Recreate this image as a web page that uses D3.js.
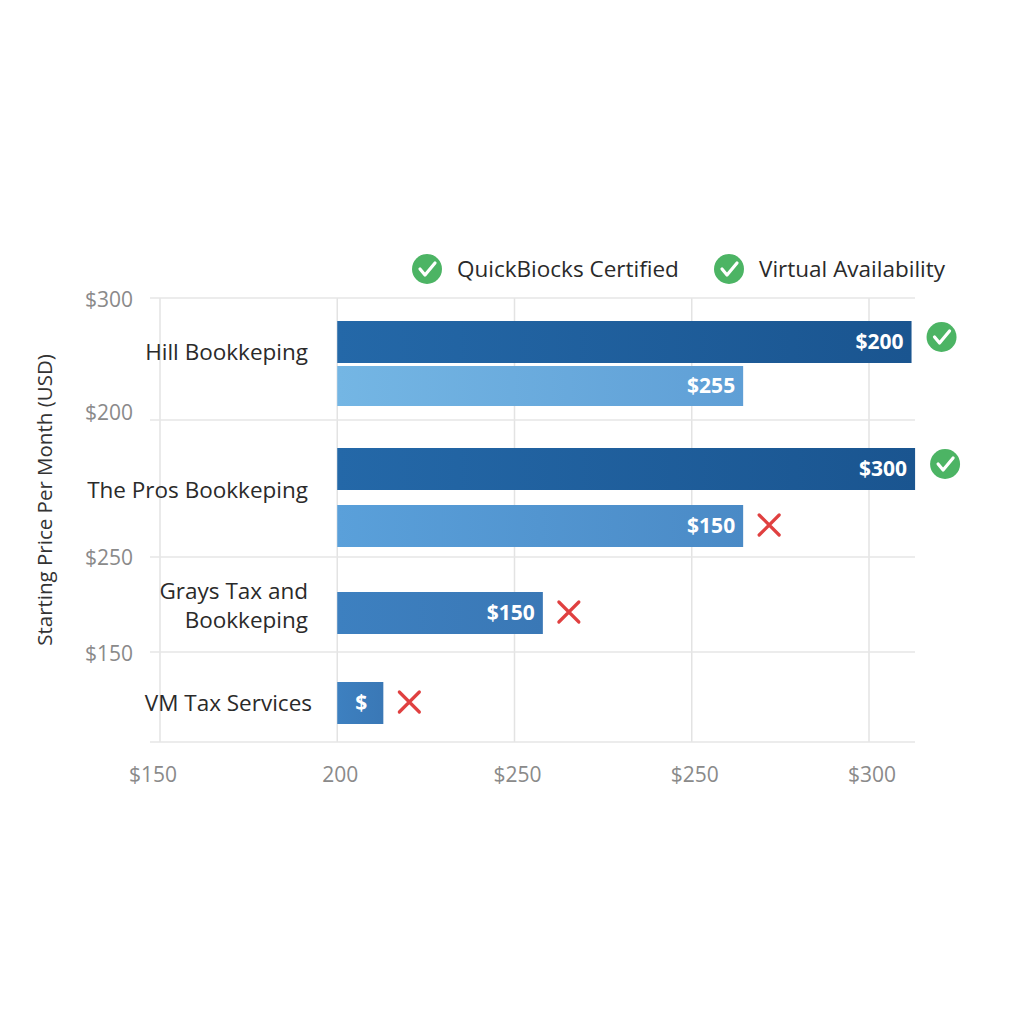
<!DOCTYPE html><html><head><meta charset="utf-8">
<script src="https://cdn.jsdelivr.net/npm/d3@7"></script>
<style>body{margin:0;background:#fff}</style></head><body><svg id="c" width="1024" height="1024"></svg>
<script>
const xTickLabels=["$150","200","$250","$250","$300"];
const yTickLabels=["$300","$200","$250","$150"];
const categories=["Hill Bookkeping","The Pros Bookkeping","Grays Tax and\nBookkeping","VM Tax Services"];
// bar end values in axis tick units (bars start at tick 1)
const barStart=1;
const bars=[
 {cat:0,row:0,value:4.24,label:"$200",tone:"dark",icon:"check"},
 {cat:0,row:1,value:3.29,label:"$255",tone:"light",icon:null},
 {cat:1,row:0,value:4.26,label:"$300",tone:"dark",icon:"check"},
 {cat:1,row:1,value:3.29,label:"$150",tone:"mid",icon:"cross"},
 {cat:2,row:0,value:2.16,label:"$150",tone:"mid2",icon:"cross"},
 {cat:3,row:0,value:1.26,label:"$",tone:"mid2",icon:"cross"}
];
const legend=["QuickBiocks Certified","Virtual Availability"];
const svg=d3.select("#c");
const defs=svg.append("defs");
function grad(id,a,b){const g=defs.append("linearGradient").attr("id",id);g.append("stop").attr("offset","0").attr("stop-color",a);g.append("stop").attr("offset","1").attr("stop-color",b);}
grad("dark","#2468a8","#1a5590");grad("light","#74b6e4","#5f9fd6");grad("mid","#5aa0da","#4a8ac6");grad("mid2","#3d80c0","#3a78b6");
const x=d3.scaleLinear().domain([0,4]).range([160,869]);
const gridY=[298,420,557,652,742];
svg.selectAll(".vg").data(d3.range(5)).join("line").attr("x1",d=>x(d)).attr("x2",d=>x(d)).attr("y1",298).attr("y2",742).attr("stroke","#e3e3e3").attr("stroke-width",1.5);
svg.selectAll(".hg").data(gridY).join("line").attr("x1",150).attr("x2",915).attr("y1",d=>d).attr("y2",d=>d).attr("stroke","#e6e6e6").attr("stroke-width",1.5);
svg.selectAll(".xt").data(xTickLabels).join("text").attr("x",(d,i)=>x(i)-(i==0?7:-3)).attr("y",782).attr("text-anchor","middle").attr("font-family","Open Sans").attr("font-size",21).attr("fill","#8a8a8a").text(d=>d);
const yLabY=[300,413,558,654];
svg.selectAll(".yt").data(yTickLabels).join("text").attr("x",133).attr("y",(d,i)=>yLabY[i]+7).attr("text-anchor","end").attr("font-family","Open Sans").attr("font-size",21).attr("fill","#8a8a8a").text(d=>d);
svg.append("text").attr("transform","translate(52,500) rotate(-90)").attr("text-anchor","middle").attr("font-family","Open Sans").attr("font-size",20.5).attr("fill","#333").text("Starting Price Per Month (USD)");
const catY=[352,490,605,703];
categories.forEach((c,i)=>{const lines=c.split("\n");const t=svg.append("text").attr("text-anchor","end").attr("font-family","Open Sans").attr("font-size",22.5).attr("fill","#2a2a2a");
 lines.forEach((l,j)=>t.append("tspan").attr("x",i==3?312:308).attr("y",catY[i]+8+(j-(lines.length-1)/2)*29).text(l));});
const barTop={"0-0":321,"0-1":366,"1-0":448,"1-1":505,"2-0":592,"3-0":682};
const barH={"0-0":42,"0-1":40,"1-0":42,"1-1":42,"2-0":42,"3-0":42};
bars.forEach(b=>{const k=b.cat+"-"+b.row,y0=barTop[k],h=barH[k];const x0=x(barStart),x1=x(b.value);
 svg.append("rect").attr("x",x0).attr("y",y0).attr("width",x1-x0).attr("height",h).attr("fill",`url(#${b.tone})`);
 svg.append("text").attr("x",x1-(b.label=="$"?22:8)).attr("y",y0+h/2+7).attr("text-anchor",b.label=="$"?"middle":"end").attr("font-family","Open Sans").attr("font-weight","bold").attr("font-size",21).attr("fill","#fff").text(b.label);
 const ix=x1+(b.icon=="check"?30:26),iy=y0+h/2-(b.icon=="check"?5:1);
 if(b.icon=="check")check(ix,iy);else if(b.icon=="cross")cross(ix,iy);});
function check(cx,cy){svg.append("circle").attr("cx",cx).attr("cy",cy).attr("r",15).attr("fill","#4cb464");
 svg.append("path").attr("d",`M${cx-7},${cy}L${cx-2},${cy+6}L${cx+8},${cy-6}`).attr("fill","none").attr("stroke","#fff").attr("stroke-width",3.2).attr("stroke-linecap","round").attr("stroke-linejoin","round");}
function cross(cx,cy){svg.append("path").attr("d",`M${cx-10},${cy-10}L${cx+10},${cy+10}M${cx+10},${cy-10}L${cx-10},${cy+10}`).attr("stroke","#e04040").attr("stroke-width",3.2).attr("stroke-linecap","round");}
const lx=[427,729];
legend.forEach((l,i)=>{check(lx[i],269);svg.append("text").attr("x",lx[i]+30).attr("y",277).attr("font-family","Open Sans").attr("font-size",22.5).attr("fill","#2a2a2a").text(l);});
</script></body></html>
